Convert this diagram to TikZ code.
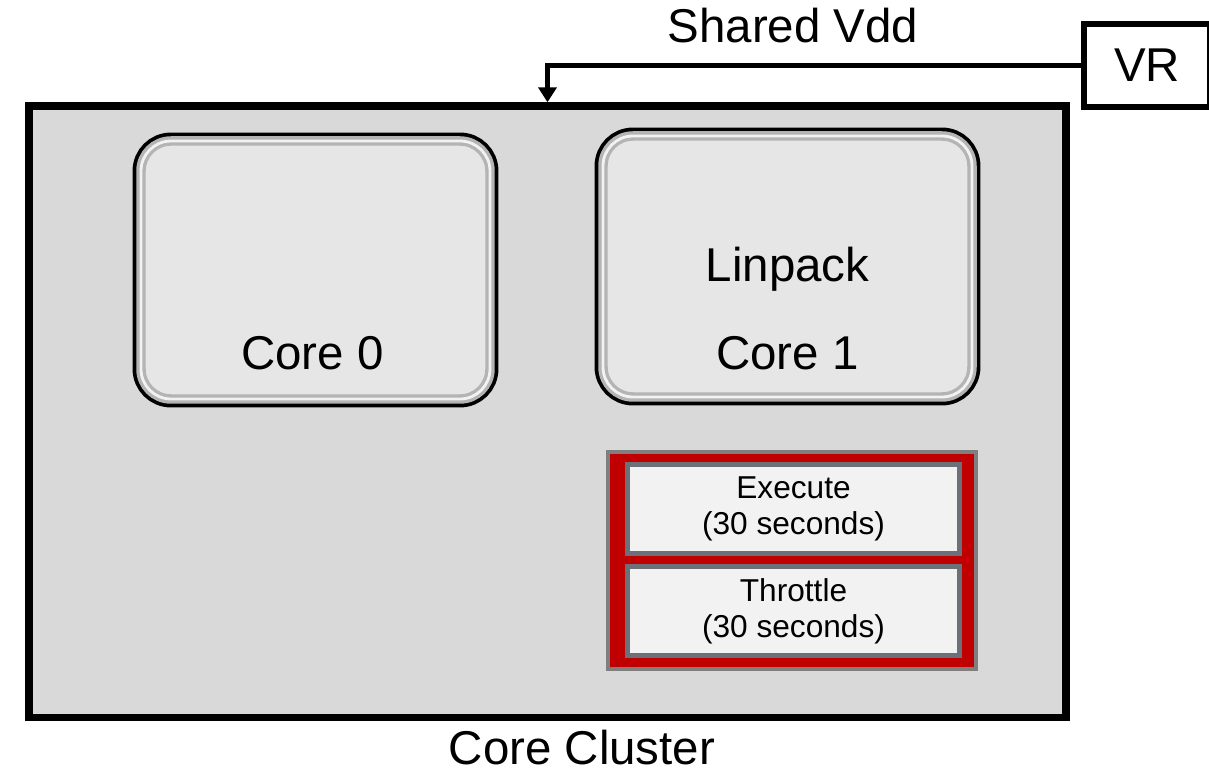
\documentclass[tikz,border=0pt]{standalone}
\usepackage{fontspec}
\setmainfont{Liberation Sans}
\usepackage{tikz}
\usetikzlibrary{arrows.meta}
\usetikzlibrary{calc}
\usetikzlibrary{positioning}
\definecolor{clusterfill}{HTML}{D9D9D9}
\definecolor{corefill}{HTML}{E6E6E6}
\definecolor{bevelgray}{HTML}{B4B4B4}
\definecolor{groupgray}{HTML}{7F7F7F}
\definecolor{redfill}{HTML}{C00000}
\definecolor{phasegray}{HTML}{6B7079}
\definecolor{phasefill}{HTML}{F2F2F2}

\begin{document}
\begin{tikzpicture}[>={Triangle[width=0.36cm,length=0.3cm]},inner sep=0pt,bigtext/.style={font=\fontsize{27}{32}\selectfont}]
  \tikzstyle{cluster}=[rectangle,draw=black,fill=clusterfill,line width=4.2pt,minimum width=20.74cm,minimum height=12.23cm]
  \tikzstyle{core}=[rectangle,rounded corners=0.6cm,outer sep=0pt,fill=corefill,draw=bevelgray,line width=5.4pt,
      preaction={draw=black,line width=9.6pt},postaction={draw=white!90!gray,line width=1.6pt}]
  \tikzstyle{group}=[rectangle,draw=groupgray,fill=redfill,line width=2.8pt,minimum width=7.36cm,minimum height=4.34cm]
  \tikzstyle{phase}=[rectangle,draw=phasegray,fill=phasefill,line width=2.8pt,outer sep=0pt,minimum width=6.64cm,minimum height=1.78cm,
      align=center,font=\fontsize{18}{20.5}\selectfont]
  \tikzstyle{vrbox}=[rectangle,draw=black,line width=3.4pt,minimum width=2.52cm,minimum height=1.66cm]

  \useasboundingbox (0,0) rectangle (24.18,15.64);

  \node[cluster] (cluster) at (10.95,7.405) {};
  \node[core,minimum width=6.98cm,minimum height=5.16cm] (core0) at (6.31,10.24) {};
  \node[core,minimum width=7.38cm,minimum height=5.22cm] (core1) at (15.75,10.31) {};
  \node[bigtext] (c0txt) [above=0.58cm of core0.south, anchor=base, xshift=-0.06cm] {Core 0};
  \node[bigtext] (c1txt) [above=0.54cm of core1.south, anchor=base] {Core 1};
  \node[bigtext] (lintxt) [above=1.76cm of c1txt.base, anchor=base] {Linpack};

  \node[group] (grp) at (15.84,4.43) {};
  \node[phase] (exe) at (15.87,5.46) {Execute\\(30 seconds)};
  \node[phase] (thr) [below=0.26cm of exe] {Throttle\\(30 seconds)};

  \node[vrbox,bigtext] (vr) at (22.94,14.33) {VR};
  \node[bigtext,anchor=base] (vdd) at (15.86,14.78) {Shared Vdd};
  \node[bigtext] (cctxt) [below=0.86cm of cluster.south, xshift=0.69cm, anchor=base] {Core Cluster};

  \draw[->,line width=3.4pt] (vr.west) -| (cluster.north);
\end{tikzpicture}
\end{document}
